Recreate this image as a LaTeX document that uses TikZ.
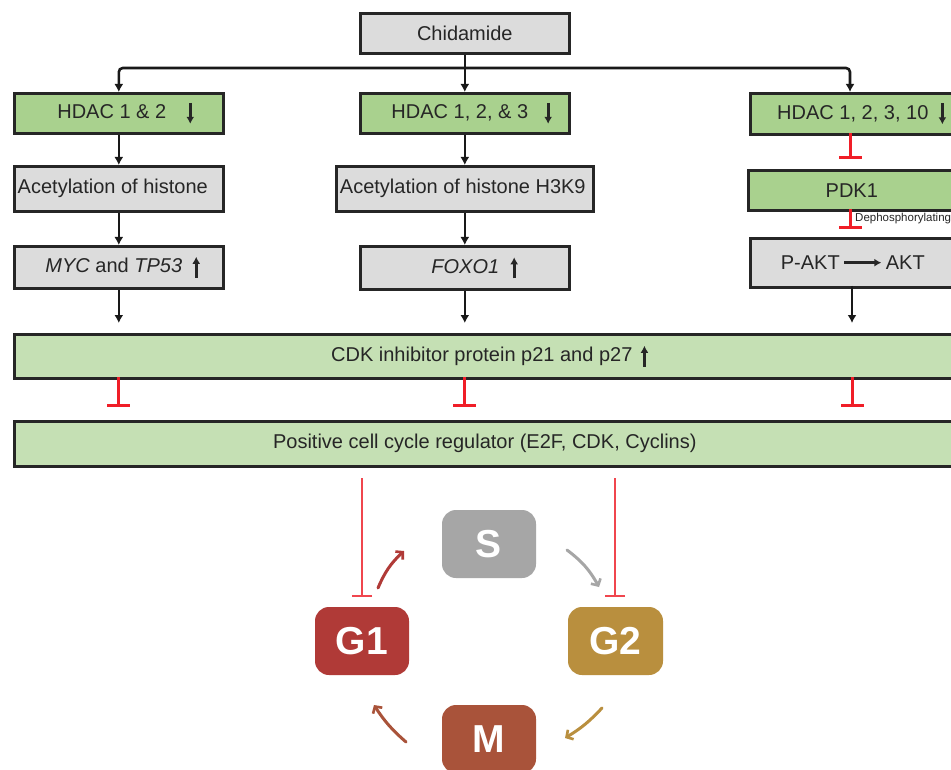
\documentclass[tikz,border=0pt]{standalone}
\usepackage{fontspec}
\setmainfont{Liberation Sans}
\usetikzlibrary{arrows.meta}
\definecolor{boxgray}{HTML}{DCDCDC}
\definecolor{hgreen}{HTML}{A9D18E}
\definecolor{lgreen}{HTML}{C5E0B4}
\definecolor{edge}{HTML}{262626}
\definecolor{inhred}{HTML}{F01E28}
\definecolor{thinred}{HTML}{F0464E}
\definecolor{cS}{HTML}{A6A6A6}
\definecolor{cGone}{HTML}{B03A37}
\definecolor{cGtwo}{HTML}{B98F3E}
\definecolor{cM}{HTML}{A9533A}
\newcommand\dnarr{\tikz[baseline=0pt]\draw[line width=2.8pt,-{Latex[length=7pt,width=8pt]}] (0pt,16pt)--(0pt,-5pt);}
\newcommand\uparr{\tikz[baseline=0pt]\draw[line width=2.8pt,-{Latex[length=7pt,width=8pt]}] (0pt,-5pt)--(0pt,16pt);}
\tikzset{
  box/.style={draw=edge, line width=2.6pt, inner sep=0pt, anchor=north west,
    font=\fontsize{20}{24}\selectfont, text=black!85},
  graybox/.style={box, fill=boxgray},
  greenbox/.style={box, fill=hgreen},
  lightbox/.style={box, fill=lgreen},
  conn/.style={draw=black!90, line width=2.6pt, -{Latex[length=8pt,width=9pt]}},
  inh/.style={draw=inhred, line width=3pt, -{Bar[width=23pt]}},
  thininh/.style={draw=thinred, line width=1.6pt, -{Bar[width=20pt,line width=2.4pt]}},
  phase/.style={rounded corners=14pt, minimum width=94pt, minimum height=68pt,
    inner sep=0pt, text=white, font=\fontsize{39}{44}\selectfont\bfseries},
  cyc/.style={line width=3pt, line cap=round, -{Straight Barb[length=5pt,width=11pt,line width=2.6pt]}}
}
\begin{document}
\begin{tikzpicture}[x=1pt,y=-1pt]
\fill[white] (0,0) rectangle (951,770);
\useasboundingbox (0,0) rectangle (951,770);

% boxes
\node[graybox, minimum width=209pt, minimum height=40pt] (chid) at (359,12) {Chidamide};
\node[greenbox, minimum width=209pt, minimum height=40pt] (h1) at (13,92) {\hspace*{14pt}HDAC 1 \& 2\hspace{20pt}\dnarr};
\node[greenbox, minimum width=209pt, minimum height=40pt] (h2) at (359,92) {\hspace*{14pt}HDAC 1, 2, \& 3\hspace{16pt}\dnarr};
\node[greenbox, minimum width=205pt, minimum height=41pt] (h3) at (749,92) {\hspace*{18pt}HDAC 1, 2, 3, 10\hspace{10pt}\dnarr};
\node[graybox, minimum width=209pt, minimum height=45pt] (a1) at (13,165) {Acetylation of histone\hspace*{12pt}};
\node[graybox, minimum width=257pt, minimum height=45pt] (a2) at (335,165) {Acetylation of histone H3K9\hspace*{4pt}};
\node[greenbox, minimum width=207pt, minimum height=40pt] (pdk) at (747,169) {PDK1};
\node[graybox, minimum width=209pt, minimum height=42pt] (m1) at (13,245) {\hspace*{8pt}\textit{MYC} and \textit{TP53}\hspace{10pt}\uparr};
\node[graybox, minimum width=209pt, minimum height=43pt] (m2) at (359,245) {\hspace*{20pt}\textit{FOXO1}\hspace{11pt}\uparr};
\node[graybox, minimum width=205pt, minimum height=49pt] (pakt) at (749,237) {P-AKT\,\tikz[baseline=0pt]\draw[line width=2.4pt,-{Latex[length=7pt,width=8pt]}] (0pt,7pt)--(37pt,7pt);\,AKT};
\node[lightbox, minimum width=941pt, minimum height=44pt] (cdk) at (13,333) {\hspace*{10pt}CDK inhibitor protein p21 and p27\hspace{8pt}\uparr};
\node[lightbox, minimum width=941pt, minimum height=45pt] (pos) at (13,420) {Positive cell cycle regulator (E2F, CDK, Cyclins)};

% Chidamide distribution
\coordinate (bus) at (464,68);
\draw[conn] (chid.south) -- (h2.north);
\draw[conn, rounded corners=4pt] (bus) -| (h1.north);
\draw[conn, rounded corners=4pt] (bus) -| (850,92);

% left and middle columns
\draw[conn] (h1.south) -- (a1.north);
\draw[conn] (a1.south) -- (m1.north);
\draw[conn] (h2.south) -- (h2.south |- a2.north);
\draw[conn] (a2.south -| h2.south) -- (m2.north);

% right column
\draw[inh, shorten >=10pt] (850,133) -- (850,169);
\draw[inh, shorten >=8pt] (850,209) -- (850,237);
\node[anchor=west, inner sep=0pt, font=\fontsize{11.5}{14}\selectfont, text=black!85] (dep) at (855,219) {Dephosphorylating};

% to CDK box
\draw[conn, shorten >=10pt] (m1.south) -- (m1.south |- cdk.north);
\draw[conn, shorten >=10pt] (m2.south) -- (m2.south |- cdk.north);
\draw[conn, shorten >=10pt] (852,286) -- (852,333);

% CDK inhibits positive regulators
\foreach \xx in {118,464,852}{
  \draw[inh, shorten >=13pt] (\xx,377) -- (\xx,420);
}

% cell cycle
\node[phase, fill=cS] (S) at (489,544) {S};
\node[phase, fill=cGone] (G1) at (362,641) {G1};
\node[phase, fill=cGtwo, minimum width=95pt] (G2) at (615.5,641) {G2};
\node[phase, fill=cM] (M) at (489,739) {M};

\draw[thininh] (362,478) -- (362,597);
\draw[thininh] (615,478) -- (615,597);

\draw[cyc, draw=cGone] (378,588) to[bend left=12] (404,551);
\draw[cyc, draw=cS] (567,550) to[bend left=12] (599,587);
\draw[cyc, draw=cGtwo] (602,708) to[bend left=8] (565,738);
\draw[cyc, draw=cM] (406,742) to[bend left=8] (374,705);
\end{tikzpicture}
\end{document}
